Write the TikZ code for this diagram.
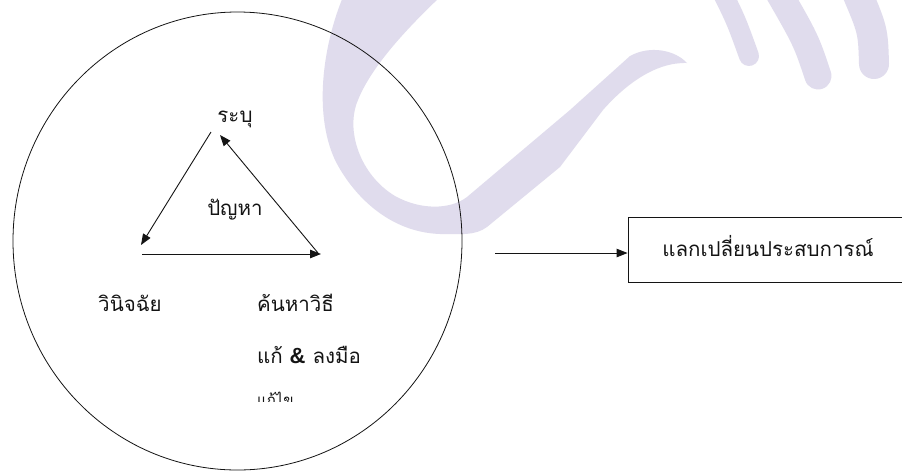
\documentclass[tikz,border=0pt]{standalone}
\usepackage{fontspec}
\newfontfamily\thai[Script=Thai]{Loma}
\newfontfamily\ampfont{Liberation Sans}
\usetikzlibrary{arrows.meta,shapes.geometric}
\definecolor{wm}{RGB}{224,220,237}
\definecolor{ink}{RGB}{20,20,20}
\begin{document}
\begin{tikzpicture}[x=1pt,y=-1pt,
  lbl/.style={font=\thai\fontsize{20.5}{24}\selectfont, text=ink, inner sep=0pt},
  llbl/.style={lbl, anchor=west},
  arr/.style={draw=ink, line width=0.9pt, -{Triangle[length=11pt,width=8.5pt]}},
  wmband/.style={fill=wm, draw=none}]
\useasboundingbox (0,0) rectangle (902,475);
\fill[white] (0,0) rectangle (902,475);
% watermark
\fill[wmband] (343,-3) .. controls (325,40) and (312,110) .. (335,160)
  .. controls (350,190) and (385,232) .. (440,234)
  .. controls (460,234) and (475,236) .. (487,227)
  -- (560,167) -- (603,110)
  .. controls (625,85) and (655,62) .. (687,63)
  .. controls (675,50) and (650,45) .. (630,56)
  -- (570,110) -- (467,197)
  .. controls (450,210) and (420,210) .. (395,196)
  .. controls (360,175) and (345,130) .. (358,100)
  .. controls (370,70) and (400,35) .. (440,-3) -- cycle;
\draw[wm, line width=20pt, line cap=round] (720,-12) .. controls (736,20) .. (749,56);
\draw[wm, line width=27pt, line cap=round] (776,-12) .. controls (806,40) .. (818,76);
\draw[wm, line width=30pt, line cap=round] (855,-12) .. controls (873,30) .. (874,64);
% circle
\node[ellipse, draw=ink, line width=0.8pt, minimum width=449pt, minimum height=458pt, inner sep=0pt] (circ) at (237.5,241) {};
% triangle
\coordinate (topL) at (211,132);
\coordinate (topR) at (220,135);
\coordinate (left) at (141,245);
\coordinate (botL) at (142,254);
\coordinate (botR) at (321,254);
\coordinate (rgt) at (318,253);
\draw[arr] (topL) -- (left);
\draw[arr] (botL) -- (botR);
\draw[arr] (rgt) -- (topR);
% labels
\node[lbl] (ident) at (235,119) {ระบุ};
\node[lbl] (prob) at (235,210) {ปัญหา};
\node[lbl] (diag) at (130,303) {วินิจฉัย};
\node[llbl] (find) at (257,303) {ค้นหาวิธี};
\node[llbl] (act) at (257,355) {แก้ {\ampfont\bfseries\fontsize{22}{24}\selectfont\&} ลงมือ};
\begin{scope}
\clip (200,370) rectangle (400,401);
\node[llbl, font=\thai\fontsize{15}{17}\selectfont] (fix) at (257,398.5) {แก้ไข};
\end{scope}
% box and arrow
\node[draw=ink, line width=0.9pt, minimum width=280pt, minimum height=65pt, inner sep=0pt] (box) at (768,249.5) {};
\node[lbl] (share) at (768,246) {แลกเปลี่ยนประสบการณ์};
\coordinate (astart) at (495,253);
\draw[arr] (astart) -- (box.west |- astart);
\end{tikzpicture}
\end{document}
